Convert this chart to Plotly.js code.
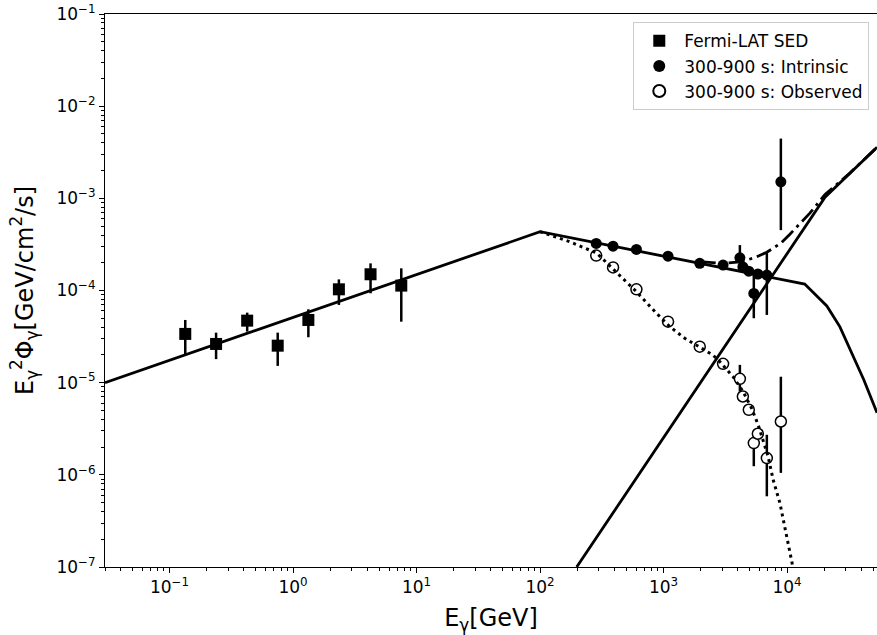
<!DOCTYPE html>
<html>
<head>
<meta charset="utf-8">
<script src="https://cdn.plot.ly/plotly-3.0.1.min.js"></script>
<style>html,body{margin:0;padding:0;background:#fff;}#chart{width:877px;height:635px;}</style>
</head>
<body>
<div id="chart"></div>
<script>
// ---- Fermi-LAT SED (squares) ----
const fermiE   = [0.134, 0.238, 0.425, 0.751, 1.33, 2.35, 4.24, 7.52];
const fermiF   = [3.38e-5, 2.63e-5, 4.71e-5, 2.52e-5, 4.79e-5, 1.03e-4, 1.50e-4, 1.13e-4];
const fermiHi  = [4.79e-5, 3.49e-5, 5.75e-5, 3.49e-5, 6.25e-5, 1.32e-4, 1.97e-4, 1.74e-4];
const fermiLo  = [2.00e-5, 1.80e-5, 3.58e-5, 1.52e-5, 3.11e-5, 6.97e-5, 9.33e-5, 4.59e-5];

// ---- 300-900 s points (shared energies) ----
const vhsE     = [285, 390, 603, 1087, 1964, 3034, 4150, 4387, 4900, 5380, 5800, 6860, 8910];
const intrF    = [3.24e-4, 3.03e-4, 2.79e-4, 2.36e-4, 1.97e-4, 1.89e-4, 2.26e-4, 1.80e-4, 1.62e-4, 9.3e-5, 1.51e-4, 1.47e-4, 1.51e-3];
const intrHi   = [3.45e-4, 3.25e-4, 3.05e-4, 2.55e-4, 2.12e-4, 2.05e-4, 3.11e-4, 1.95e-4, 1.80e-4, 1.49e-4, 1.70e-4, 2.55e-4, 4.45e-3];
const intrLo   = [3.05e-4, 2.85e-4, 2.55e-4, 2.18e-4, 1.82e-4, 1.74e-4, 1.67e-4, 1.65e-4, 1.45e-4, 5.0e-5, 1.33e-4, 5.43e-5, 4.52e-4];
const obsF     = [2.39e-4, 1.78e-4, 1.03e-4, 4.59e-5, 2.46e-5, 1.60e-5, 1.10e-5, 7.08e-6, 5.08e-6, 2.21e-6, 2.79e-6, 1.52e-6, 3.79e-6];
const obsHi    = [2.55e-4, 1.92e-4, 1.12e-4, 5.0e-5, 2.65e-5, 1.72e-5, 1.56e-5, 7.7e-6, 5.6e-6, 2.6e-6, 3.1e-6, 2.72e-6, 1.16e-5];
const obsLo    = [2.23e-4, 1.65e-4, 9.4e-5, 4.2e-5, 2.28e-5, 1.48e-5, 8.0e-6, 6.5e-6, 4.6e-6, 1.24e-6, 2.5e-6, 5.85e-7, 1.05e-6];

// ---- model curves ----
const intrModelE = [0.03, 100, 1.39e4, 1.68e4, 2.10e4, 2.68e4, 3.35e4, 4.19e4, 5.35e4];
const intrModelF = [1.0e-5, 4.34e-4, 1.175e-4, 9.16e-5, 6.79e-5, 4.03e-5, 2.11e-5, 1.07e-5, 4.71e-6];
const riseModelE = [198, 2.03e4, 5.35e4];
const riseModelF = [1.0e-7, 1.03e-3, 3.58e-3];
const obsModelE  = [100, 174, 287, 443, 603, 876, 1122, 1485, 2028, 2505, 2853, 3655, 4406, 5153, 5834, 6398, 7026, 7715, 8750, 11150];
const obsModelF  = [4.34e-4, 3.38e-4, 2.55e-4, 1.47e-4, 9.7e-5, 5.66e-5, 4.06e-5, 3.03e-5, 2.36e-5, 2.0e-5, 1.69e-5, 1.16e-5, 8.0e-6, 5.3e-6, 3.49e-6, 2.40e-6, 1.58e-6, 8.86e-7, 4.95e-7, 1.0e-7];
const totModelE  = [1964, 3034, 4150, 5380, 6860, 8910, 10500, 12700, 15300, 20300, 32400, 53500];
const totModelF  = [2.06e-4, 1.97e-4, 2.05e-4, 2.25e-4, 2.6e-4, 3.26e-4, 4.06e-4, 5.27e-4, 6.9e-4, 1.1e-3, 1.89e-3, 3.58e-3];

// ---- tick labels ----
const xTickVals = [0.1, 1, 10, 100, 1000, 10000];
const xTickText = ['10<sup>−1</sup>', '10<sup>0</sup>', '10<sup>1</sup>', '10<sup>2</sup>', '10<sup>3</sup>', '10<sup>4</sup>'];
const yTickVals = [1e-7, 1e-6, 1e-5, 1e-4, 1e-3, 1e-2, 1e-1];
const yTickText = ['10<sup>−7</sup>', '10<sup>−6</sup>', '10<sup>−5</sup>', '10<sup>−4</sup>', '10<sup>−3</sup>', '10<sup>−2</sup>', '10<sup>−1</sup>'];
const legendNames = ['Fermi-LAT SED', '300-900 s: Intrinsic', '300-900 s: Observed'];

function minorVals(lo, hi) {
  const v = [];
  for (let p = lo; p <= hi; p++) for (let m = 2; m <= 9; m++) v.push(m * Math.pow(10, p));
  return v;
}
const up = (hi, c) => hi.map((h, i) => h - c[i]);
const dn = (lo, c) => lo.map((l, i) => c[i] - l);

const ebar = {type: 'data', symmetric: false, color: '#000', thickness: 2.5, width: 0};

const traces = [
  {x: fermiE, y: fermiF, mode: 'markers', type: 'scatter', name: legendNames[0],
   marker: {symbol: 'square', size: 12, color: '#000'},
   error_y: Object.assign({array: up(fermiHi, fermiF), arrayminus: dn(fermiLo, fermiF)}, ebar)},
  {x: vhsE, y: intrF, mode: 'markers', type: 'scatter', name: legendNames[1],
   marker: {symbol: 'circle', size: 11, color: '#000'},
   error_y: Object.assign({array: up(intrHi, intrF), arrayminus: dn(intrLo, intrF)}, ebar)},
  {x: vhsE, y: obsF, mode: 'markers', type: 'scatter', name: legendNames[2],
   marker: {symbol: 'circle', size: 11, color: '#fff', line: {color: '#000', width: 1.5}},
   error_y: Object.assign({array: up(obsHi, obsF), arrayminus: dn(obsLo, obsF)}, ebar)},
  {x: intrModelE, y: intrModelF, mode: 'lines', type: 'scatter', showlegend: false,
   line: {color: '#000', width: 2.8}},
  {x: riseModelE, y: riseModelF, mode: 'lines', type: 'scatter', showlegend: false,
   line: {color: '#000', width: 2.8}},
  {x: obsModelE, y: obsModelF, mode: 'lines', type: 'scatter', showlegend: false,
   line: {color: '#000', width: 3, dash: '3px,4px'}},
  {x: totModelE, y: totModelF, mode: 'lines', type: 'scatter', showlegend: false,
   line: {color: '#000', width: 2.8, dash: '16px,5px,3px,5px'}}
];

const fontFam = 'DejaVu Sans, sans-serif';
const layout = {
  width: 877, height: 635,
  margin: {l: 105, r: 0, t: 14, b: 68},
  paper_bgcolor: '#fff', plot_bgcolor: '#fff',
  font: {family: fontFam, color: '#000', size: 17},
  showlegend: true,
  legend: {x: 0.99, xanchor: 'right', y: 0.985, yanchor: 'top',
           bgcolor: '#fff', bordercolor: '#cccccc', borderwidth: 1,
           font: {family: fontFam, size: 17, color: '#000'}, itemsizing: 'constant',
           tracegroupgap: 0, itemwidth: 40},
  xaxis: {type: 'log', range: [Math.log10(0.03), Math.log10(53500)],
          showgrid: false, zeroline: false, showline: true, linecolor: '#000', linewidth: 1,
          mirror: true, ticks: 'outside', ticklen: 5, tickwidth: 1, tickcolor: '#000',
          tickmode: 'array', tickvals: xTickVals, ticktext: xTickText,
          tickfont: {family: fontFam, size: 17, color: '#000'},
          minor: {tickmode: 'array', tickvals: minorVals(-2, 4), ticks: 'outside', ticklen: 3, tickwidth: 1, tickcolor: '#000', showgrid: false},
          title: {text: 'E<sub>γ</sub>[GeV]', font: {family: fontFam, size: 24, color: '#000'}, standoff: 15},
          automargin: false},
  yaxis: {type: 'log', range: [-7, -1],
          showgrid: false, zeroline: false, showline: true, linecolor: '#000', linewidth: 1,
          mirror: false, ticks: 'outside', ticklen: 5, tickwidth: 1, tickcolor: '#000',
          tickmode: 'array', tickvals: yTickVals, ticktext: yTickText,
          tickfont: {family: fontFam, size: 17, color: '#000'},
          minor: {tickmode: 'array', tickvals: minorVals(-7, -2), ticks: 'outside', ticklen: 3, tickwidth: 1, tickcolor: '#000', showgrid: false},
          title: {text: 'E<sub>γ</sub><sup>2</sup>Φ<sub>γ</sub>[GeV/cm<sup>2</sup>/s]', font: {family: fontFam, size: 24, color: '#000'}, standoff: 16},
          automargin: false}
};

Plotly.newPlot('chart', traces, layout, {displayModeBar: false, staticPlot: true});
</script>
</body>
</html>
